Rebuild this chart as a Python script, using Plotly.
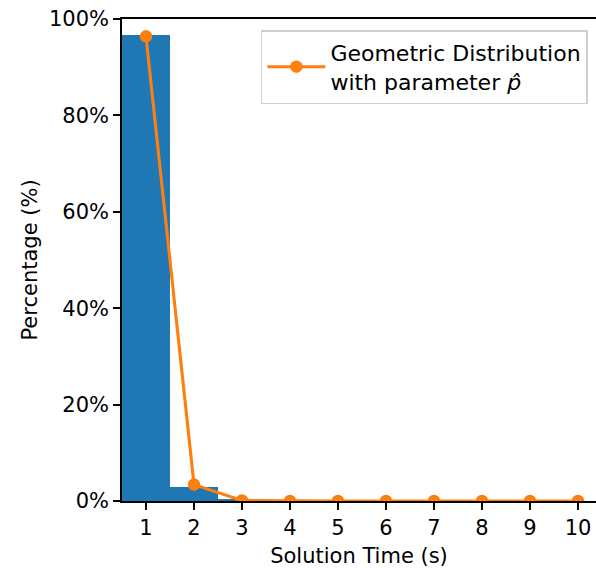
import plotly.graph_objects as go

times = [1, 2, 3, 4, 5, 6, 7, 8, 9, 10]
observed_pct = [96.7, 2.9, 0.25, 0.05, 0.02, 0.0, 0.0, 0.0, 0.0, 0.0]
geometric_pct = [96.4, 3.4, 0.12, 0.004, 0.0, 0.0, 0.0, 0.0, 0.0, 0.0]
y_ticks = [0, 20, 40, 60, 80, 100]

fig = go.Figure()
fig.add_trace(go.Bar(x=times, y=observed_pct, width=1.0, marker=dict(color="#1f77b4", line=dict(width=0)),
                     showlegend=False))
fig.add_trace(go.Scatter(x=times, y=geometric_pct, mode="lines+markers",
                         line=dict(color="#ff7f0e", width=3.1),
                         marker=dict(color="#ff7f0e", size=12.5),
                         name="Geometric Distribution<br>with parameter <i>p̂</i>"))

font = "DejaVu Sans, sans-serif"
fig.update_layout(
    width=596, height=568,
    margin=dict(l=122, r=0, t=19, b=67, pad=0),
    plot_bgcolor="white", paper_bgcolor="white",
    font=dict(family=font, size=21, color="black"),
    bargap=0,
    showlegend=True,
    legend=dict(x=0.293, y=0.977, xanchor="left", yanchor="top",
                bordercolor="#d0d0d0", borderwidth=1.5, bgcolor="rgba(255,255,255,0.8)",
                font=dict(size=22), itemwidth=58, tracegroupgap=0),
    xaxis=dict(range=[0.5, 10.375], tickvals=times, ticktext=[str(t) for t in times],
               showline=True, linecolor="black", linewidth=1.67, mirror=True,
               ticks="outside", ticklen=7, tickwidth=1.67, tickcolor="black",
               showgrid=False, zeroline=False, automargin=False,
               title=dict(text="Solution Time (s)", standoff=10, font=dict(size=21)),
               tickfont=dict(size=21)),
    yaxis=dict(range=[0, 100], tickvals=y_ticks, ticktext=[f"{v}%" for v in y_ticks],
               showline=True, linecolor="black", linewidth=1.67, mirror=False,
               ticks="outside", ticklen=7, tickwidth=1.67, tickcolor="black",
               showgrid=False, zeroline=False, automargin=False,
               title=dict(text="Percentage (%)", standoff=6, font=dict(size=21)),
               tickfont=dict(size=21)),
)
fig.write_html("out.html")
